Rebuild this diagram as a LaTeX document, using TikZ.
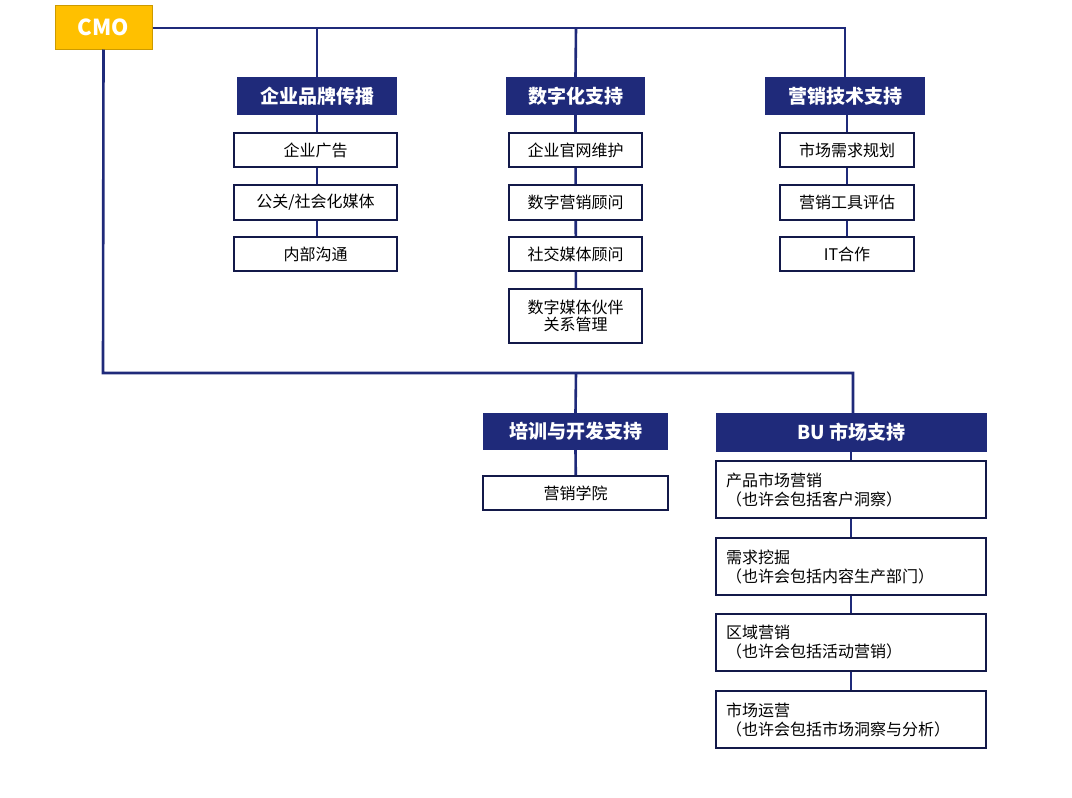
\documentclass[tikz,border=0pt]{standalone}
\usepackage{fontspec}
\setmainfont{Noto Sans CJK SC}
\definecolor{navy}{HTML}{1F2A7A}
\definecolor{cmoY}{HTML}{FFC000}
\begin{document}
\begin{tikzpicture}[x=1pt,y=-1pt,
  line/.style={navy,line width=2.6pt},
  hdr/.style={fill=navy,text=white,font=\bfseries\fontsize{19}{22}\selectfont,inner sep=0pt},
  sub/.style={draw=navy!60!black,line width=1.3pt,fill=white,font=\fontsize{16}{19}\selectfont,inner sep=0pt,align=center},
  bu/.style={sub,align=left,text width=250pt,minimum width=270pt,minimum height=57pt}]
\useasboundingbox (0,0) rectangle (1072,798);
% CMO
\node[fill=cmoY,draw=cmoY!80!black,line width=1pt,text=white,font=\bfseries\fontsize{22}{26}\selectfont,minimum width=97pt,minimum height=44pt,inner sep=0pt] (cmo) at (103.5,27) {CMO};
% headers
\node[hdr,minimum width=160pt,minimum height=38pt] (h1) at (317,96) {企业品牌传播};
\node[hdr,minimum width=139pt,minimum height=38pt] (h2) at (575.5,96) {数字化支持};
\node[hdr,minimum width=160pt,minimum height=38pt] (h3) at (845,96) {营销技术支持};
\node[hdr,minimum width=185pt,minimum height=37pt] (h4) at (575.5,431.5) {培训与开发支持};
\node[hdr,minimum width=271pt,minimum height=39pt] (h5) at (851.5,432.5) {BU 市场支持};
% connectors top
\coordinate (t1) at (317,28);\coordinate (t2) at (576,28);\coordinate (t3) at (845,28);
\draw[line] (cmo.east|-t1) -- (t3) -- (h3.north);
\draw[line] (t1) -- (h1.north);
\draw[line] (t2) -- (h2.north);
\coordinate (b0) at (103,373);\coordinate (b1) at (576,373);\coordinate (b2) at (853,373);
\draw[line] (cmo.south) -- (b0) -- (b2) -- (h5.north-|b2);
\draw[line] (b1) -- (h4.north);
% column connectors
\draw[line] (h1.south) -- (317,254);
\draw[line] (h2.south) -- (576,316);
\draw[line] (h3.south-|847,0) -- (847,254);
\draw[line] (h4.south) -- (576,493);
\draw[line] (851,452) -- (851,720);
% subs col1
\node[sub,minimum width=163pt,minimum height=34pt] (a1) at (315.5,150) {企业广告};
\node[sub,minimum width=163pt,minimum height=35pt] (a2) at (315.5,202.5) {公关/社会化媒体};
\node[sub,minimum width=163pt,minimum height=34pt] (a3) at (315.5,254) {内部沟通};
% col2
\node[sub,minimum width=133pt,minimum height=34pt] (c1) at (575.5,150) {企业官网维护};
\node[sub,minimum width=133pt,minimum height=35pt] (c2) at (575.5,202.5) {数字营销顾问};
\node[sub,minimum width=133pt,minimum height=34pt] (c3) at (575.5,254) {社交媒体顾问};
\node[sub,minimum width=133pt,minimum height=54pt] (c4) at (575.5,316) {数字媒体伙伴\\[-2pt]关系管理};
% col3
\node[sub,minimum width=134pt,minimum height=34pt] (d1) at (847,150) {市场需求规划};
\node[sub,minimum width=134pt,minimum height=35pt] (d2) at (847,202.5) {营销工具评估};
\node[sub,minimum width=134pt,minimum height=34pt] (d3) at (847,254) {IT合作};
% training
\node[sub,minimum width=185pt,minimum height=34pt] (e1) at (575.5,493) {营销学院};
% BU
\node[bu] (f1) at (851,489.5) {产品市场营销\\（也许会包括客户洞察）};
\node[bu] (f2) at (851,566.5) {需求挖掘\\（也许会包括内容生产部门）};
\node[bu] (f3) at (851,642.5) {区域营销\\（也许会包括活动营销）};
\node[bu] (f4) at (851,719.5) {市场运营\\（也许会包括市场洞察与分析）};
\end{tikzpicture}
\end{document}
